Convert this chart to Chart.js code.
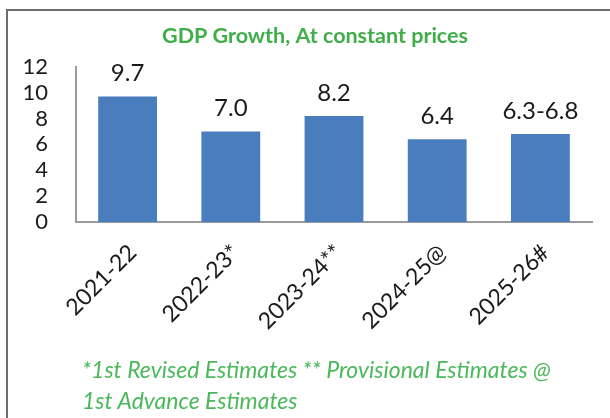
<!DOCTYPE html>
<html>
<head>
<meta charset="utf-8">
<script src="https://cdn.jsdelivr.net/npm/chart.js@4.4.1/dist/chart.umd.min.js"></script>
<style>
  body { margin: 0; background: #fff; }
  #wrap { position: relative; width: 610px; height: 418px; overflow: hidden; }
  #frame {
    position: absolute; left: 6px; top: 9px; width: 640px; height: 440px;
    border-left: 2px solid #6e6e6e; border-top: 2px solid #6e6e6e;
  }
  canvas { position: absolute; left: 0; top: 0; }
  .note {
    position: absolute; left: 82px; color: #4cb85c;
    font: italic 23px Lato, sans-serif; white-space: nowrap;
  }
</style>
</head>
<body>
<div id="wrap">
  <div id="frame"></div>
  <canvas id="gdp" width="610" height="418"></canvas>
  <div class="note" style="top:355px">*1st Revised Estimates ** Provisional Estimates @</div>
  <div class="note" style="top:386px">1st Advance Estimates</div>
</div>
<script>
// GDP growth (%) by year, at constant prices
const years = ["2021-22", "2022-23*", "2023-24**", "2024-25@", "2025-26#"];
const growth = [9.7, 7.0, 8.2, 6.4, 6.8];
// lower end of the projected range (only the last year is a range)
const growthLow = [null, null, null, null, 6.3];
const yMax = 12;
const yStep = 2;

function labelText(i) {
  const hi = growth[i].toFixed(1);
  if (growthLow[i] == null) return hi;
  return growthLow[i].toFixed(1) + "-" + hi;
}

// value text above each bar
const valueLabels = {
  id: "valueLabels",
  afterDatasetsDraw(chart) {
    const ctx = chart.ctx;
    const meta = chart.getDatasetMeta(0);
    ctx.save();
    ctx.font = "24px Lato";
    ctx.fillStyle = "#1a1a1a";
    ctx.textAlign = "center";
    ctx.textBaseline = "middle";
    meta.data.forEach((bar, i) => {
      ctx.fillText(labelText(i), bar.x, bar.y - 23);
    });
    ctx.restore();
  },
};

const gdpChart = new Chart(document.getElementById("gdp"), {
  type: "bar",
  data: {
    labels: years,
    datasets: [
      {
        data: growth,
        backgroundColor: "#4a7dbd",
        categoryPercentage: 1,
        barPercentage: 0.57,
      },
    ],
  },
  options: {
    responsive: false,
    animation: false,
    layout: { padding: { top: 18, left: 22, right: 2, bottom: 86 } },
    plugins: {
      legend: { display: false },
      tooltip: { enabled: false },
      title: {
        display: true,
        text: "GDP Growth, At constant prices",
        color: "#3fae49",
        font: { family: "Lato", size: 21.5, weight: "bold" },
        padding: { top: 5, bottom: 18 },
      },
    },
    scales: {
      x: {
        grid: { display: false, drawTicks: false },
        border: { color: "#9a9a9a", width: 2 },
        ticks: {
          color: "#1a1a1a",
          font: { family: "Lato", size: 23 },
          minRotation: 45,
          maxRotation: 45,
          padding: 17,
          labelOffset: 5,
        },
        afterFit(scale) {
          scale.height = 110;
          scale.paddingRight = 18;
        },
      },
      y: {
        min: 0,
        max: yMax,
        grid: { display: false, drawTicks: false },
        border: { color: "#9a9a9a", width: 2 },
        ticks: {
          stepSize: yStep,
          autoSkip: false,
          color: "#1a1a1a",
          font: { family: "Lato", size: 22 },
          padding: 28,
        },
        afterFit(scale) { scale.width = 54; },
      },
    },
  },
  plugins: [valueLabels],
});
</script>
</body>
</html>
